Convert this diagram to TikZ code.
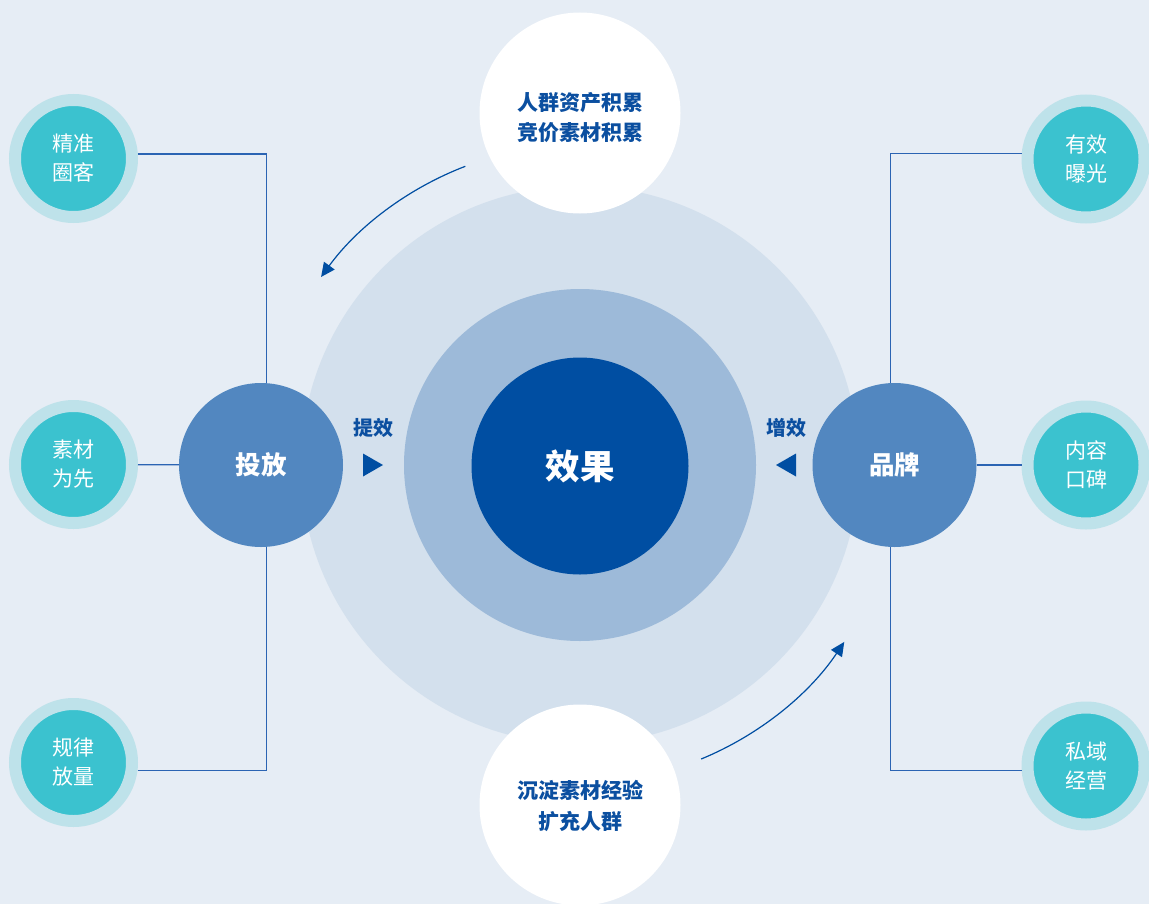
\documentclass[tikz,border=0pt]{standalone}
\usepackage{fontspec}
\setmainfont{Noto Sans CJK SC}
\usetikzlibrary{arrows.meta}
\definecolor{bgc}{HTML}{E6EDF5}
\definecolor{ringA}{HTML}{D3E0ED}
\definecolor{ringB}{HTML}{9DBAD9}
\definecolor{core}{HTML}{004EA2}
\definecolor{hub}{HTML}{5287C0}
\definecolor{tealring}{HTML}{BEE2EA}
\definecolor{teal}{HTML}{3BC2CF}
\definecolor{txtblue}{HTML}{0B4FA0}
\definecolor{linec}{HTML}{2B64B3}
\tikzset{
  disc/.style={circle, inner sep=0pt, outer sep=0pt},
  smallc/.style={disc, fill=teal, draw=tealring, line width=12bp, minimum size=117bp, outer sep=6bp,
     text=white, align=center, font=\fontsize{21bp}{29bp}\selectfont},
  hubc/.style={disc, fill=hub, minimum size=164bp, text=white, font=\bfseries\fontsize{25.5bp}{30bp}\selectfont},
  whitec/.style={disc, fill=white, minimum size=201bp, text=txtblue, align=center,
     font=\bfseries\fontsize{21bp}{30bp}\selectfont},
  conn/.style={draw=linec, line width=1.2bp},
  arr/.style={draw=linec, line width=1.2bp, -{Triangle[length=14bp,width=13bp]}, color=core},
  lab/.style={text=txtblue, font=\bfseries\fontsize{20bp}{24bp}\selectfont}
}
\begin{document}
\begin{tikzpicture}[x=1bp,y=-1bp]
\useasboundingbox (0,0) rectangle (1149,904);
\clip (0,0) rectangle (1149,904);
\fill[bgc] (0,0) rectangle (1149,904);
% central rings
\node[disc, fill=ringA, minimum size=558bp] (big) at (580,465) {};
\node[disc, fill=ringB, minimum size=352bp] (mid) at (580,465) {};
\node[disc, fill=core, minimum size=217bp, text=white, font=\bfseries\fontsize{34.5bp}{36bp}\selectfont] (eff) at (580,466) {效果};
% white circles
\node[whitec] (top) at (580,113) {\parbox{8em}{\vspace*{10bp}\centering 人群资产积累\\竞价素材积累}};
\node[whitec] (bot) at (580,805) {\parbox{8em}{\vspace*{2bp}\centering\baselineskip=31bp 沉淀素材经验\\扩充人群}};
% hubs
\node[hubc] (tf) at (261,465) {投放};
\node[hubc] (pp) at (894.5,465) {品牌};
% small circles
\node[smallc] (l1) at (73.5,158.5) {精准\\圈客};
\node[smallc] (l2) at (73.5,464.5) {素材\\为先};
\node[smallc] (l3) at (73.5,762.5) {规律\\放量};
\node[smallc] (r1) at (1086,159) {有效\\曝光};
\node[smallc] (r2) at (1086,465) {内容\\口碑};
\node[smallc] (r3) at (1086,766) {私域\\经营};
% connectors
\draw[conn] (l1.4) -| (tf.86);
\draw[conn] (l2) -- (tf);
\draw[conn] (l3.-7) -| (tf.-86);
\draw[conn] (r1.175) -| (pp.93);
\draw[conn] (r2) -- (pp);
\draw[conn] (r3.184) -| (pp.-93);
% curved arrows
\coordinate (a1) at (465.3,166.3);
\coordinate (a2) at (701.2,759);
\draw[arr] (a1) arc[start angle=249, end angle=216, radius=320];
\draw[arr] (a2) arc[start angle=67.6, end angle=33.8, radius=318];
% labels and triangles
\node[lab] (tx) at (373,428) {提效};
\node[lab] (zx) at (786,428) {增效};
\coordinate (t1) at (373,465);
\coordinate (t2) at (786,465);
\fill[core] (t1) ++(-10,-11.5) -- ++(20,11.5) -- ++(-20,11.5) -- cycle;
\fill[core] (t2) ++(10,-11.5) -- ++(-20,11.5) -- ++(20,11.5) -- cycle;
\end{tikzpicture}
\end{document}
